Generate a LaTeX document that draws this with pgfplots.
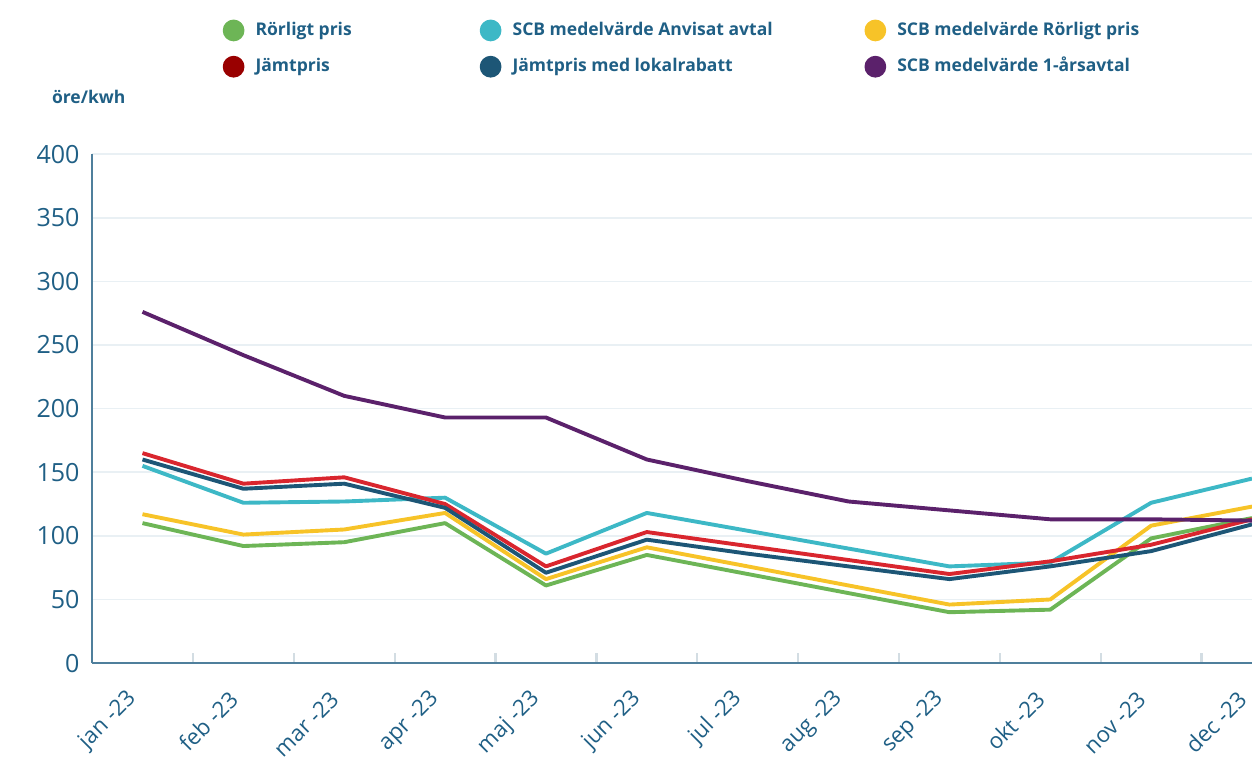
\documentclass[border=0pt]{standalone}
\usepackage{fontspec}
\setmainfont{Open Sans}
\usepackage{pgfplots}
\pgfplotsset{compat=1.18}

\definecolor{cGreen}{HTML}{6DB556}
\definecolor{cCyan}{HTML}{3DB8C6}
\definecolor{cYellow}{HTML}{F7C328}
\definecolor{cRed}{HTML}{D9262E}
\definecolor{cNavy}{HTML}{1D5676}
\definecolor{cPurple}{HTML}{5B216B}
\definecolor{txt}{HTML}{1F5F85}
\definecolor{axisc}{HTML}{4F7F9C}
\definecolor{gridc}{HTML}{E9F0F4}
\definecolor{tickc}{HTML}{D3DDE3}

\begin{document}
\begin{tikzpicture}
\begin{axis}[
    name=ax,
    scale only axis,
    width=417pt, height=183pt,
    xmin=-0.5, xmax=11,
    ymin=0, ymax=400,
    ytick={0,50,...,400},
    xtick={0,...,11},
    xticklabels={jan -23,feb -23,mar -23,apr -23,maj -23,jun -23,jul -23,aug -23,sep -23,okt -23,nov -23,dec -23},
    minor xtick={0.5,1.5,...,10.5},
    major tick length=0pt,
    minor tick length=3.5pt,
    minor tick style={tickc, line width=0.8pt},
    axis x line*=bottom, axis y line*=left,
    axis line style={axisc, line width=0.9pt},
    ymajorgrids, grid style={gridc, line width=0.6pt},
    tick label style={text=txt},
    /pgf/number format/assume math mode=true,
    yticklabel style={font=\fontsize{9}{11}\selectfont, xshift=-1pt},
    xticklabel style={font=\fontsize{8}{10}\selectfont, rotate=45, anchor=east, yshift=-5.8pt, xshift=-7.2pt},
    clip=false,
    legend style={at={(rel axis cs:0.105,1.283)}, anchor=north west, draw=none, fill=none,
        font=\fontsize{6.3}{8}\selectfont\bfseries, text=txt,
        legend columns=3, row sep=2.5pt,
        /tikz/every odd column/.append style={column sep=2pt},
        /tikz/column 2/.append style={column sep=44pt},
        /tikz/column 4/.append style={column sep=31pt}},
    legend cell align=left,
    legend image code/.code={\fill[#1] (0.13cm,0cm) circle (3.2pt);},
    every axis plot/.append style={line width=1.4pt, line join=round},
]
\addplot[cGreen] coordinates {(0,110)(1,92)(2,95)(3,110)(4,61)(5,85)(6,70)(7,55)(8,40)(9,42)(10,98)(11,114)};
\addlegendentry{Rörligt pris}
\addplot[cCyan] coordinates {(0,155)(1,126)(2,127)(3,130)(4,86)(5,118)(6,104)(7,90)(8,76)(9,79)(10,126)(11,145)};
\addlegendentry{SCB medelvärde Anvisat avtal}
\addplot[cYellow] coordinates {(0,117)(1,101)(2,105)(3,118)(4,66)(5,91)(6,76)(7,61)(8,46)(9,50)(10,108)(11,123)};
\addlegendentry{SCB medelvärde Rörligt pris}
\addplot[cRed, legend image code/.code={\fill[red!60!black] (0.13cm,0cm) circle (3.2pt);}] coordinates {(0,165)(1,141)(2,146)(3,125)(4,76)(5,103)(6,92)(7,81)(8,70)(9,80)(10,93)(11,113)};
\addlegendentry{Jämtpris}
\addplot[cNavy] coordinates {(0,160)(1,137)(2,141)(3,122)(4,71)(5,97)(6,86)(7,76)(8,66)(9,76)(10,88)(11,109)};
\addlegendentry{Jämtpris med lokalrabatt}
\addplot[cPurple] coordinates {(0,276)(1,242)(2,210)(3,193)(4,193)(5,160)(6,143)(7,127)(8,120)(9,113)(10,113)(11,112)};
\addlegendentry{SCB medelvärde 1-årsavtal}
\node[anchor=west, text=txt, font=\fontsize{6.3}{8}\selectfont\bfseries] at (rel axis cs:-0.043,1.112) {öre/kwh};
\end{axis}
\pgfresetboundingbox
\useasboundingbox ([xshift=-33.1pt, yshift=-34.9pt]ax.south west) rectangle ([yshift=55.4pt]ax.north east);
\end{tikzpicture}
\end{document}
